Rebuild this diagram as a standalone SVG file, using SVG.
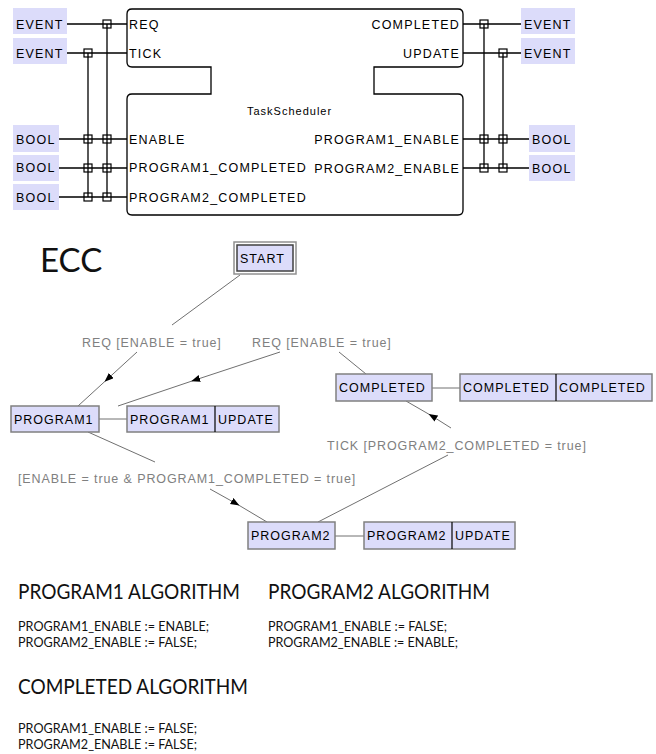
<svg xmlns="http://www.w3.org/2000/svg" width="656" height="754" viewBox="0 0 656 754">
<style>
.lbl{font-family:"Liberation Sans",Arial,sans-serif;font-size:12.5px;letter-spacing:1.2px;fill:#000}
.tr{font-family:"Liberation Sans",Arial,sans-serif;font-size:12.5px;letter-spacing:0.9px;fill:#808080}
.typ{fill:#dcdcfa;stroke:none}
.st{fill:#dcdcfa;stroke:#808080;stroke-width:1.5}
.w{stroke:#000;stroke-width:1.3;fill:none}
.sq{fill:none;stroke:#000;stroke-width:1.2}
.ecc{stroke:#707070;stroke-width:1;fill:none}
.h{font-family:Lato,"Open Sans",sans-serif;fill:#111}
.code{font-family:Lato,"Open Sans",sans-serif;font-size:13px;fill:#111}
</style>
<defs>
<marker id="ar" markerWidth="10" markerHeight="8" refX="5" refY="3.5" orient="auto" markerUnits="userSpaceOnUse">
<path d="M0,0 L9,3.5 L0,7 z" fill="#000"/>
</marker>
</defs>
<rect width="656" height="754" fill="#fff"/>

<g id="fb">
<path class="w" d="M132,9 H458 Q463,9 463,14 V62 Q463,67 458,67 H374 V94 H458 Q463,94 463,99 V210 Q463,215 458,215 H132 Q127,215 127,210 V99 Q127,94 132,94 H211 V67 H132 Q127,67 127,62 V14 Q127,9 132,9 Z"/>
<text class="lbl" x="129" y="28.5">REQ</text>
<text class="lbl" x="129" y="57.5">TICK</text>
<text class="lbl" x="129" y="144">ENABLE</text>
<text class="lbl" x="129" y="172">PROGRAM1_COMPLETED</text>
<text class="lbl" x="129" y="201.5">PROGRAM2_COMPLETED</text>
<text class="lbl" x="460" y="28.5" text-anchor="end">COMPLETED</text>
<text class="lbl" x="460" y="57.5" text-anchor="end">UPDATE</text>
<text class="lbl" x="460" y="144" text-anchor="end">PROGRAM1_ENABLE</text>
<text class="lbl" x="460" y="172.5" text-anchor="end">PROGRAM2_ENABLE</text>
<text x="247" y="115" style="font-family:'Liberation Sans',Arial,sans-serif;font-size:11px;letter-spacing:1px">TaskScheduler</text>
</g>

<g id="types">
<g id="t-ev1"><rect class="typ" x="13" y="8" width="54" height="26"/><text class="lbl" x="16" y="28.5">EVENT</text></g>
<g id="t-ev2"><rect class="typ" x="13" y="38" width="54" height="26"/><text class="lbl" x="16" y="57.5">EVENT</text></g>
<g id="t-b1"><rect class="typ" x="13" y="125" width="46" height="27"/><text class="lbl" x="16" y="144">BOOL</text></g>
<g id="t-b2"><rect class="typ" x="13" y="155" width="46" height="26"/><text class="lbl" x="16" y="172">BOOL</text></g>
<g id="t-b3"><rect class="typ" x="13" y="184" width="46" height="26"/><text class="lbl" x="16" y="201.5">BOOL</text></g>
<g id="t-ev3"><rect class="typ" x="521" y="8" width="54" height="26"/><text class="lbl" x="524" y="28.5">EVENT</text></g>
<g id="t-ev4"><rect class="typ" x="521" y="38" width="54" height="26"/><text class="lbl" x="524" y="57.5">EVENT</text></g>
<g id="t-b4"><rect class="typ" x="529" y="125" width="46" height="27"/><text class="lbl" x="532" y="144">BOOL</text></g>
<g id="t-b5"><rect class="typ" x="529" y="155" width="46" height="26"/><text class="lbl" x="532" y="172.5">BOOL</text></g>
</g>

<g id="fb-connectors">
<path class="w" d="M67,24 H127 M67,53 H127 M59,139 H127 M59,168 H127 M59,197 H127 M107,24 V197 M88,53 V197"/>
<path class="w" d="M463,24 H521 M463,53 H521 M463,139 H529 M463,168 H529 M484,24 V168 M503,53 V168"/>
<g class="sq">
<rect x="103" y="20" width="8" height="8"/>
<rect x="84" y="49" width="8" height="8"/>
<rect x="84" y="135" width="8" height="8"/><rect x="103" y="135" width="8" height="8"/>
<rect x="84" y="164" width="8" height="8"/><rect x="103" y="164" width="8" height="8"/>
<rect x="84" y="193" width="8" height="8"/><rect x="103" y="193" width="8" height="8"/>
<rect x="480" y="20" width="8" height="8"/>
<rect x="499" y="49" width="8" height="8"/>
<rect x="480" y="135" width="8" height="8"/><rect x="499" y="135" width="8" height="8"/>
<rect x="480" y="164" width="8" height="8"/><rect x="499" y="164" width="8" height="8"/>
</g>
</g>

<text class="h" x="40" y="272" font-size="33">ECC</text>

<g id="ecc-connectors">
<path class="ecc" d="M240,275 L172,325"/>
<path class="ecc" d="M137,352 L107.5,379 L78,406" marker-mid="url(#ar)"/>
<path class="ecc" d="M366,374 L339,352"/>
<path class="ecc" d="M280,352 L195,380 L118,406" marker-mid="url(#ar)"/>
<path class="ecc" d="M88,432 L155,462"/>
<path class="ecc" d="M210,489 L236,503.5 L267,522" marker-mid="url(#ar)"/>
<path class="ecc" d="M318,522 L448,455"/>
<path class="ecc" d="M451,428 L432,416 L406,401" marker-mid="url(#ar)"/>
<path class="ecc" d="M99,419 H127 M335,536 H364 M432,388 H460"/>
<text class="tr" x="82" y="346.5">REQ [ENABLE = true]</text>
<text class="tr" x="252" y="346.5">REQ [ENABLE = true]</text>
<text class="tr" x="18" y="482.5">[ENABLE = true &amp; PROGRAM1_COMPLETED = true]</text>
<text class="tr" x="327" y="449.5">TICK [PROGRAM2_COMPLETED = true]</text>
</g>

<g id="s-start">
<rect x="234" y="242" width="62" height="32" fill="none" stroke="#909090" stroke-width="1.5"/>
<rect x="237" y="245" width="56" height="26" fill="#dcdcfa" stroke="#404040" stroke-width="1.5"/>
<text class="lbl" x="240" y="262.5" style="letter-spacing:1px">START</text>
</g>
<g id="s-program1">
<rect class="st" x="11" y="406" width="88" height="26"/>
<text class="lbl" x="14" y="423.5" style="letter-spacing:1px">PROGRAM1</text>
</g>
<g id="a-program1">
<rect class="st" x="127" y="406" width="152" height="26"/>
<line x1="215" y1="406" x2="215" y2="432" stroke="#000" stroke-width="1.2"/>
<text class="lbl" x="130" y="423.5" style="letter-spacing:1px">PROGRAM1</text>
<text class="lbl" x="218" y="423.5" style="letter-spacing:1px">UPDATE</text>
</g>
<g id="s-completed">
<rect class="st" x="336" y="374" width="96" height="27"/>
<text class="lbl" x="339" y="392" style="letter-spacing:1px">COMPLETED</text>
</g>
<g id="a-completed">
<rect class="st" x="460" y="374" width="192" height="27"/>
<line x1="556" y1="374" x2="556" y2="401" stroke="#000" stroke-width="1.2"/>
<text class="lbl" x="463" y="392" style="letter-spacing:1px">COMPLETED</text>
<text class="lbl" x="559" y="392" style="letter-spacing:1px">COMPLETED</text>
</g>
<g id="s-program2">
<rect class="st" x="248" y="522" width="87" height="27"/>
<text class="lbl" x="251" y="540" style="letter-spacing:1px">PROGRAM2</text>
</g>
<g id="a-program2">
<rect class="st" x="364" y="522" width="151" height="27"/>
<line x1="452" y1="522" x2="452" y2="549" stroke="#000" stroke-width="1.2"/>
<text class="lbl" x="367" y="540" style="letter-spacing:1px">PROGRAM2</text>
<text class="lbl" x="455" y="540" style="letter-spacing:1px">UPDATE</text>
</g>

<g id="algorithms">
<text class="h" x="18" y="599" font-size="21" textLength="222" lengthAdjust="spacingAndGlyphs">PROGRAM1 ALGORITHM</text>
<text class="code" x="18" y="631" textLength="191" lengthAdjust="spacingAndGlyphs">PROGRAM1_ENABLE := ENABLE;</text>
<text class="code" x="18" y="647" textLength="179" lengthAdjust="spacingAndGlyphs">PROGRAM2_ENABLE := FALSE;</text>
<text class="h" x="268" y="599" font-size="21" textLength="222" lengthAdjust="spacingAndGlyphs">PROGRAM2 ALGORITHM</text>
<text class="code" x="268" y="631" textLength="179" lengthAdjust="spacingAndGlyphs">PROGRAM1_ENABLE := FALSE;</text>
<text class="code" x="268" y="647" textLength="190" lengthAdjust="spacingAndGlyphs">PROGRAM2_ENABLE := ENABLE;</text>
<text class="h" x="18" y="694" font-size="21" textLength="230" lengthAdjust="spacingAndGlyphs">COMPLETED ALGORITHM</text>
<text class="code" x="18" y="733" textLength="179" lengthAdjust="spacingAndGlyphs">PROGRAM1_ENABLE := FALSE;</text>
<text class="code" x="18" y="749" textLength="179" lengthAdjust="spacingAndGlyphs">PROGRAM2_ENABLE := FALSE;</text>
</g>
</svg>
